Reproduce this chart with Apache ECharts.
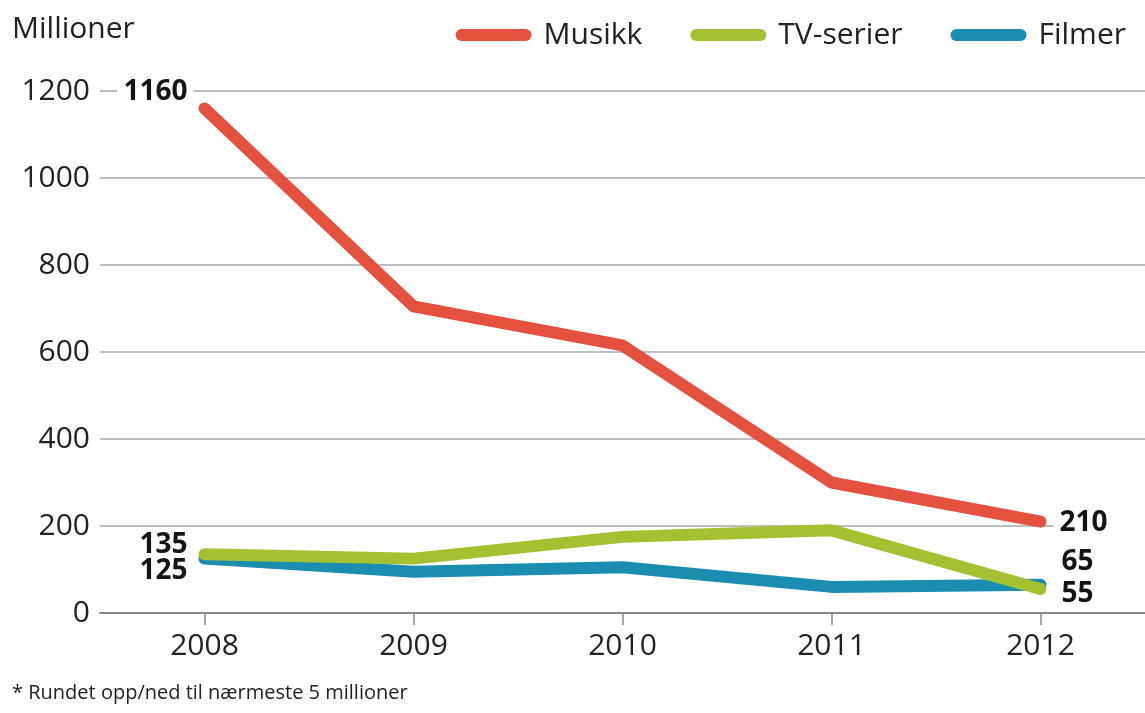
<!DOCTYPE html>
<html>
<head>
<meta charset="utf-8">
<script src="https://cdn.jsdelivr.net/npm/echarts@6/dist/echarts.min.js"></script>
<style>
html,body{margin:0;padding:0;background:#fff;}
#chart{width:1145px;height:713px;}
</style>
</head>
<body>
<div id="chart"></div>
<script>
const years = ['2008', '2009', '2010', '2011', '2012'];
const musikk = [1160, 705, 615, 300, 210];
const tvSerier = [135, 125, 175, 190, 55];
const filmer = [125, 95, 105, 60, 65];
const yTicks = [0, 200, 400, 600, 800, 1000, 1200];
const seriesNames = ['Musikk', 'TV-serier', 'Filmer'];
const colors = ['#e5513f', '#a4c132', '#1a8db1'];

const FONT = "'Open Sans', 'Noto Sans', sans-serif";
const labelBase = {
  show: true,
  fontFamily: FONT,
  fontWeight: 'bold',
  fontSize: 28,
  color: '#151515',
  backgroundColor: '#fff'
};

function build(values, cfg) {
  return values.map((v, i) => {
    if (cfg[i]) {
      return { value: v, label: Object.assign({}, labelBase, cfg[i]) };
    }
    return { value: v, label: { show: false } };
  });
}

const capsule = 'path://M6,0 L70,0 A6,6 0 0 1 70,12 L6,12 A6,6 0 0 1 6,0 Z';

const chart = echarts.init(document.getElementById('chart'), null, { renderer: 'canvas' });
chart.setOption({
  animation: false,
  backgroundColor: '#fff',
  color: colors,
  grid: { left: 100, right: 0, top: 91, bottom: 100, containLabel: false },
  legend: {
    data: seriesNames,
    top: 15,
    right: 14,
    icon: capsule,
    itemWidth: 76,
    itemHeight: 12,
    itemGap: 48,
    textStyle: { fontFamily: FONT, fontSize: 30, color: '#222', padding: [0, 0, 0, 7] }
  },
  graphic: [
    { type: 'text', left: 12, top: 14, style: { text: 'Millioner', font: "30px 'Open Sans', sans-serif", fill: '#222' } },
    { type: 'text', left: 12, top: 683, style: { text: '* Rundet opp/ned til nærmeste 5 millioner', font: "20px 'Open Sans', sans-serif", fill: '#222' } }
  ],
  xAxis: {
    type: 'category',
    data: years,
    boundaryGap: true,
    axisLine: { show: true, lineStyle: { color: '#8a8a8a', width: 2 } },
    axisTick: { show: true, alignWithLabel: true, length: 12, inside: false, lineStyle: { color: '#8a8a8a', width: 1.5 } },
    axisLabel: { fontFamily: FONT, fontSize: 30, color: '#222', margin: 18 }
  },
  yAxis: {
    type: 'value',
    min: yTicks[0],
    max: yTicks[yTicks.length - 1],
    interval: yTicks[1] - yTicks[0],
    axisLine: { show: false },
    axisTick: { show: false },
    axisLabel: { fontFamily: FONT, fontSize: 30, color: '#222', margin: 10, formatter: v => String(v) },
    splitLine: { show: true, lineStyle: { color: '#a8a8a8', width: 1.5 } }
  },
  series: [
    {
      name: seriesNames[0],
      type: 'line',
      symbol: 'circle',
      symbolSize: 2,
      lineStyle: { width: 12, cap: 'round', join: 'round' },
      z: 4,
      data: build(musikk, {
        0: { position: 'left', distance: 10, offset: [0, -16], padding: [0, 6, 0, 6] },
        4: { position: 'right', distance: 12, offset: [0, 1], padding: [0, 40, 0, 6] }
      })
    },
    {
      name: seriesNames[1],
      type: 'line',
      symbol: 'circle',
      symbolSize: 2,
      lineStyle: { width: 12, cap: 'round', join: 'round' },
      z: 3,
      data: build(tvSerier, {
        0: { position: 'left', distance: 14, offset: [0, -9], padding: [0, 2], backgroundColor: 'transparent' },
        4: { position: 'right', distance: 18, offset: [0, 5], padding: [0, 2], backgroundColor: 'transparent' }
      })
    },
    {
      name: seriesNames[2],
      type: 'line',
      symbol: 'circle',
      symbolSize: 2,
      lineStyle: { width: 12, cap: 'round', join: 'round' },
      z: 2,
      data: build(filmer, {
        0: { position: 'left', distance: 14, offset: [0, 12], padding: [0, 2], backgroundColor: 'transparent' },
        4: { position: 'right', distance: 18, offset: [0, -23], padding: [0, 2], backgroundColor: 'transparent' }
      })
    }
  ]
});
</script>
</body>
</html>
